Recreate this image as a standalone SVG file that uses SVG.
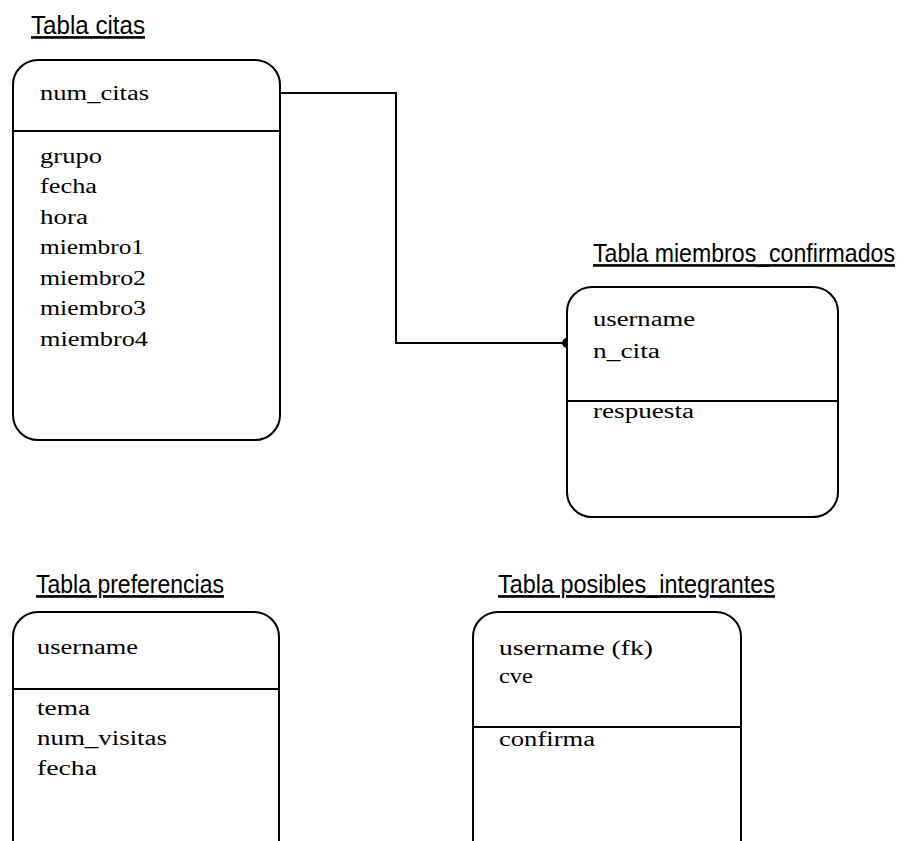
<svg xmlns="http://www.w3.org/2000/svg" width="904" height="841" viewBox="0 0 904 841">
<defs>
<style>
.box{fill:#fff;stroke:#000;stroke-width:2}
.div{stroke:#000;stroke-width:1.8}
.title{font-family:"Liberation Sans",Arial,sans-serif;font-size:23px;fill:#000;text-decoration:underline}
.f{font-family:"Liberation Serif","Times New Roman",serif;font-size:20px;fill:#000}
.conn{fill:none;stroke:#000;stroke-width:2}
</style>
</defs>
<rect width="904" height="841" fill="#fff"/>
<g id="connectors">
<path class="conn" d="M280,93 H396 V343 H567"/>
<circle cx="567" cy="343" r="5" fill="#000"/>
</g>
<g id="tabla_citas">
<text class="title" transform="translate(31,34) scale(1,1.14)" textLength="114" lengthAdjust="spacingAndGlyphs">Tabla citas</text>
<rect class="box" x="13" y="60" width="267" height="380" rx="25" ry="25"/>
<line class="div" x1="13" y1="131" x2="280" y2="131"/>
<text class="f" x="40" y="100" textLength="109" lengthAdjust="spacingAndGlyphs">num_citas</text>
<text class="f" x="40" y="163" textLength="62" lengthAdjust="spacingAndGlyphs">grupo</text>
<text class="f" x="40" y="193" textLength="57" lengthAdjust="spacingAndGlyphs">fecha</text>
<text class="f" x="40" y="224" textLength="48" lengthAdjust="spacingAndGlyphs">hora</text>
<text class="f" x="40" y="254" textLength="104" lengthAdjust="spacingAndGlyphs">miembro1</text>
<text class="f" x="40" y="285" textLength="106" lengthAdjust="spacingAndGlyphs">miembro2</text>
<text class="f" x="40" y="315" textLength="106" lengthAdjust="spacingAndGlyphs">miembro3</text>
<text class="f" x="40" y="346" textLength="108" lengthAdjust="spacingAndGlyphs">miembro4</text>
</g>
<g id="tabla_miembros_confirmados">
<text class="title" transform="translate(593,262) scale(1,1.14)" textLength="302" lengthAdjust="spacingAndGlyphs">Tabla miembros_confirmados</text>
<rect class="box" x="567" y="287" width="271" height="230" rx="25" ry="25"/>
<line class="div" x1="567" y1="401" x2="838" y2="401"/>
<text class="f" x="593" y="326" textLength="102" lengthAdjust="spacingAndGlyphs">username</text>
<text class="f" x="593" y="358" textLength="67" lengthAdjust="spacingAndGlyphs">n_cita</text>
<text class="f" x="593" y="418" textLength="101" lengthAdjust="spacingAndGlyphs">respuesta</text>
</g>
<g id="tabla_preferencias">
<text class="title" transform="translate(36,593) scale(1,1.14)" textLength="188" lengthAdjust="spacingAndGlyphs">Tabla preferencias</text>
<rect class="box" x="13" y="612" width="266" height="260" rx="25" ry="25"/>
<line class="div" x1="13" y1="689" x2="279" y2="689"/>
<text class="f" x="37" y="654" textLength="101" lengthAdjust="spacingAndGlyphs">username</text>
<text class="f" x="37" y="715" textLength="53" lengthAdjust="spacingAndGlyphs">tema</text>
<text class="f" x="37" y="745" textLength="130" lengthAdjust="spacingAndGlyphs">num_visitas</text>
<text class="f" x="37" y="775" textLength="60" lengthAdjust="spacingAndGlyphs">fecha</text>
</g>
<g id="tabla_posibles_integrantes">
<text class="title" transform="translate(498,593) scale(1,1.14)" textLength="277" lengthAdjust="spacingAndGlyphs">Tabla posibles_integrantes</text>
<rect class="box" x="473" y="612" width="268" height="260" rx="25" ry="25"/>
<line class="div" x1="473" y1="727" x2="741" y2="727"/>
<text class="f" x="499" y="655" textLength="154" lengthAdjust="spacingAndGlyphs">username (fk)</text>
<text class="f" x="499" y="683" textLength="34" lengthAdjust="spacingAndGlyphs">cve</text>
<text class="f" x="499" y="746" textLength="96" lengthAdjust="spacingAndGlyphs">confirma</text>
</g>
</svg>
